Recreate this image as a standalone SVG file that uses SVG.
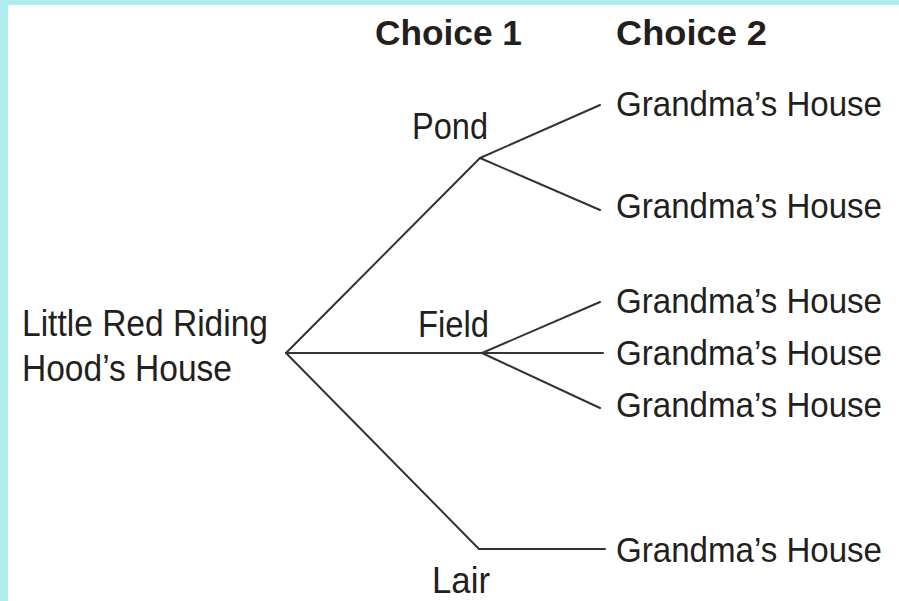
<svg xmlns="http://www.w3.org/2000/svg" width="899" height="601" viewBox="0 0 899 601">
<style>
text{font-family:"Liberation Sans",Arial,sans-serif;font-size:36px;fill:#231f20;}
.h{font-weight:bold;font-size:35px;}
.g{font-size:35px;}
.c line{stroke:#333;stroke-width:2;stroke-linecap:round;}
</style>
<rect x="0" y="0" width="899" height="601" fill="#ffffff"/>
<rect x="0" y="0" width="899" height="5" fill="#b0ecee"/>
<rect x="0" y="0" width="8" height="601" fill="#b0ecee"/>
<g id="headers">
<text class="h" x="375" y="45" textLength="147" lengthAdjust="spacingAndGlyphs">Choice 1</text>
<text class="h" x="616" y="45" textLength="151" lengthAdjust="spacingAndGlyphs">Choice 2</text>
</g>
<g class="c" id="connectors">
<line x1="286" y1="353" x2="480" y2="158"/>
<line x1="286" y1="353" x2="603" y2="353"/>
<line x1="286" y1="353" x2="479" y2="549"/>
<line x1="480" y1="158" x2="600" y2="105"/>
<line x1="480" y1="158" x2="600" y2="210"/>
<line x1="482" y1="353" x2="600" y2="302"/>
<line x1="482" y1="353" x2="600" y2="408"/>
<line x1="479" y1="549" x2="605" y2="549"/>
</g>
<g id="root">
<text x="22" y="336" textLength="246" lengthAdjust="spacingAndGlyphs">Little Red Riding</text>
<text x="22" y="381" textLength="210" lengthAdjust="spacingAndGlyphs">Hood’s House</text>
</g>
<g id="pond"><text x="412" y="139" textLength="76" lengthAdjust="spacingAndGlyphs">Pond</text></g>
<g id="field"><text x="418" y="337" textLength="71" lengthAdjust="spacingAndGlyphs">Field</text></g>
<g id="lair"><text x="432" y="593" textLength="58" lengthAdjust="spacingAndGlyphs">Lair</text></g>
<g id="g1"><text class="g" x="616" y="116" textLength="266" lengthAdjust="spacingAndGlyphs">Grandma’s House</text></g>
<g id="g2"><text class="g" x="616" y="218" textLength="266" lengthAdjust="spacingAndGlyphs">Grandma’s House</text></g>
<g id="g3"><text class="g" x="616" y="313" textLength="266" lengthAdjust="spacingAndGlyphs">Grandma’s House</text></g>
<g id="g4"><text class="g" x="616" y="365" textLength="266" lengthAdjust="spacingAndGlyphs">Grandma’s House</text></g>
<g id="g5"><text class="g" x="616" y="417" textLength="266" lengthAdjust="spacingAndGlyphs">Grandma’s House</text></g>
<g id="g6"><text class="g" x="616" y="562" textLength="266" lengthAdjust="spacingAndGlyphs">Grandma’s House</text></g>
</svg>
